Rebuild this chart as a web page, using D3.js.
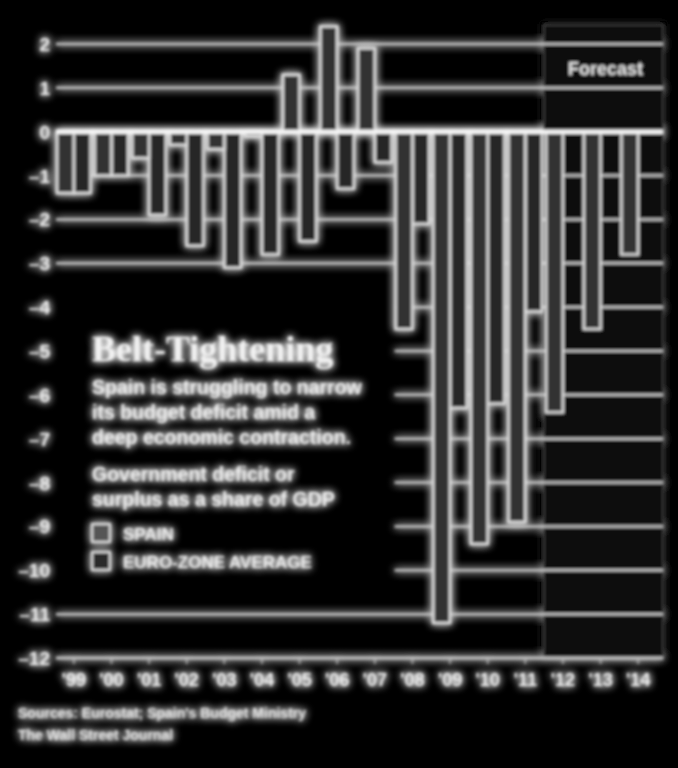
<!DOCTYPE html>
<html>
<head>
<meta charset="utf-8">
<script src="https://cdn.jsdelivr.net/npm/d3@7"></script>
<style>
  html, body { margin: 0; padding: 0; background: #000; }
  svg { display: block; }
</style>
</head>
<body>
<svg id="chart" width="678" height="768"></svg>
<script>
// ---- data ----
const years = ["'99","'00","'01","'02","'03","'04","'05","'06","'07","'08","'09","'10","'11","'12","'13","'14"];
const spain = [-1.4, -1.0, -0.6, -0.3, -0.4, -0.1, 1.3, 2.4, 1.9, -4.5, -11.2, -9.4, -8.9, -6.4, -4.5, -2.8];
const euroZone = [-1.4, -1.0, -1.9, -2.6, -3.1, -2.8, -2.5, -1.3, -0.7, -2.1, -6.3, -6.2, -4.1, null, null, null];
const yTicks = [2, 1, 0, -1, -2, -3, -4, -5, -6, -7, -8, -9, -10, -11, -12];
const forecastYears = ["'12", "'13", "'14"];
const maskedTicks = [-4, -5, -6, -7, -8, -9, -10];

const titleText = "Belt-Tightening";
const bodyLines = ["Spain is struggling to narrow", "its budget deficit amid a", "deep economic contraction."];
const subLines = ["Government deficit or", "surplus as a share of GDP"];
const legendLabels = ["SPAIN", "EURO-ZONE AVERAGE"];
const sourceLines = ["Sources: Eurostat; Spain's Budget Ministry", "The Wall Street Journal"];

// ---- layout ----
const svg = d3.select("#chart");
const defs = svg.append("defs");
const f = defs.append("filter").attr("id", "glow")
  .attr("x", "-5%").attr("y", "-5%").attr("width", "110%").attr("height", "110%");
f.append("feGaussianBlur").attr("in", "SourceGraphic").attr("stdDeviation", 4.5).attr("result", "halo");
f.append("feGaussianBlur").attr("in", "SourceGraphic").attr("stdDeviation", 1.6).attr("result", "soft");
const m = f.append("feMerge");
m.append("feMergeNode").attr("in", "halo");
m.append("feMergeNode").attr("in", "halo");
m.append("feMergeNode").attr("in", "soft");

svg.append("rect").attr("width", 678).attr("height", 768).attr("fill", "#000");
const g = svg.append("g").attr("filter", "url(#glow)");

const plotLeft = 56, plotRight = 663;
const x = d3.scaleBand().domain(years).range([55, 657]).paddingInner(0).paddingOuter(0);
const y = d3.scaleLinear().domain([2, -12]).range([44, 658]);
const bw = x.bandwidth();
const sans = "Liberation Sans, Arial, sans-serif";

// forecast panel
const fx = x(forecastYears[0]);
g.append("rect")
  .attr("x", fx).attr("y", 25)
  .attr("width", plotRight - fx).attr("height", y(-12) - 25)
  .attr("fill", "#0a0a0a").attr("stroke", "#383838").attr("stroke-width", 2);
g.append("text")
  .attr("x", (fx + plotRight) / 2 + 2).attr("y", 75)
  .attr("text-anchor", "middle")
  .attr("font-family", sans)
  .attr("font-size", 18).attr("font-weight", "bold")
  .attr("fill", "#e8e8e8")
  .text("Forecast");

// gridlines
const maskRight = x("'08") + 1;
g.append("g").selectAll("line").data(yTicks.filter(t => t !== 0)).join("line")
  .attr("x1", t => maskedTicks.includes(t) ? maskRight : plotLeft)
  .attr("x2", plotRight)
  .attr("y1", t => y(t)).attr("y2", t => y(t))
  .attr("stroke", "#c8c8c8").attr("stroke-width", 2.5);

// y axis labels
g.append("g").selectAll("text").data(yTicks).join("text")
  .attr("x", 50).attr("y", t => y(t) + 7)
  .attr("text-anchor", "end")
  .attr("font-family", sans)
  .attr("font-size", 19).attr("font-weight", "bold")
  .attr("fill", "#eee")
  .text(t => t < 0 ? "\u2013" + Math.abs(t) : String(t));

// bars
const barStroke = "#e0e0e0";
const half = bw / 2;
g.append("g").selectAll("rect").data(years.map((yr, i) => ({yr, v: euroZone[i]})).filter(d => d.v !== null)).join("rect")
  .attr("x", d => x(d.yr) + half)
  .attr("width", half - 2)
  .attr("y", d => Math.min(y(0), y(d.v)))
  .attr("height", d => Math.abs(y(d.v) - y(0)))
  .attr("fill", "#262626").attr("stroke", barStroke).attr("stroke-width", 2.5);
g.append("g").selectAll("rect").data(years.map((yr, i) => ({yr, v: spain[i]}))).join("rect")
  .attr("x", d => x(d.yr) + 2)
  .attr("width", half - 2)
  .attr("y", d => Math.min(y(0), y(d.v)))
  .attr("height", d => Math.abs(y(d.v) - y(0)))
  .attr("fill", "#303030").attr("stroke", barStroke).attr("stroke-width", 2.5);

// zero line
g.append("line").attr("x1", plotLeft).attr("x2", plotRight)
  .attr("y1", y(0)).attr("y2", y(0))
  .attr("stroke", "#f6f6f6").attr("stroke-width", 4.5);

// x axis line (bottom)
g.append("line").attr("x1", plotLeft).attr("x2", plotRight)
  .attr("y1", y(-12)).attr("y2", y(-12))
  .attr("stroke", "#c8c8c8").attr("stroke-width", 2.5);
const xAxis = d3.axisBottom(x).tickSize(6).tickPadding(9);
const ax = g.append("g").attr("transform", `translate(0,${y(-12)})`).call(xAxis);
ax.select(".domain").remove();
ax.selectAll("line").attr("stroke", "#bbb").attr("stroke-width", 1.5);
ax.selectAll("text")
  .attr("font-family", sans)
  .attr("font-size", 18).attr("font-weight", "bold")
  .attr("fill", "#eee");

// annotation block
const tx = 92;
g.append("text").attr("x", tx).attr("y", 361)
  .attr("font-family", "Liberation Serif, Times New Roman, serif")
  .attr("font-size", 36).attr("font-weight", "bold")
  .attr("fill", "#f2f2f2").text(titleText);
g.append("g").selectAll("text").data(bodyLines).join("text")
  .attr("x", tx).attr("y", (d, i) => 394 + i * 25)
  .attr("font-family", sans)
  .attr("font-size", 19.5).attr("font-weight", "bold")
  .attr("fill", "#eee").text(d => d);
g.append("g").selectAll("text").data(subLines).join("text")
  .attr("x", tx).attr("y", (d, i) => 481 + i * 25)
  .attr("font-family", sans)
  .attr("font-size", 19.5).attr("font-weight", "bold")
  .attr("fill", "#eee").text(d => d);

const legendFills = ["#555", "#2a2a2a"];
const lg = g.append("g").selectAll("g").data(legendLabels).join("g")
  .attr("transform", (d, i) => `translate(${tx},${524 + i * 28})`);
lg.append("rect").attr("width", 18).attr("height", 18)
  .attr("fill", (d, i) => legendFills[i]).attr("stroke", barStroke).attr("stroke-width", 2);
lg.append("text").attr("x", 31).attr("y", 16)
  .attr("font-family", sans)
  .attr("font-size", 17).attr("font-weight", "bold")
  .attr("fill", "#eee").text(d => d);

// source
g.append("g").selectAll("text").data(sourceLines).join("text")
  .attr("x", 18).attr("y", (d, i) => 718 + i * 22)
  .attr("font-family", sans)
  .attr("font-size", 14).attr("font-weight", "bold")
  .attr("fill", "#e6e6e6").text(d => d);
</script>
</body>
</html>
